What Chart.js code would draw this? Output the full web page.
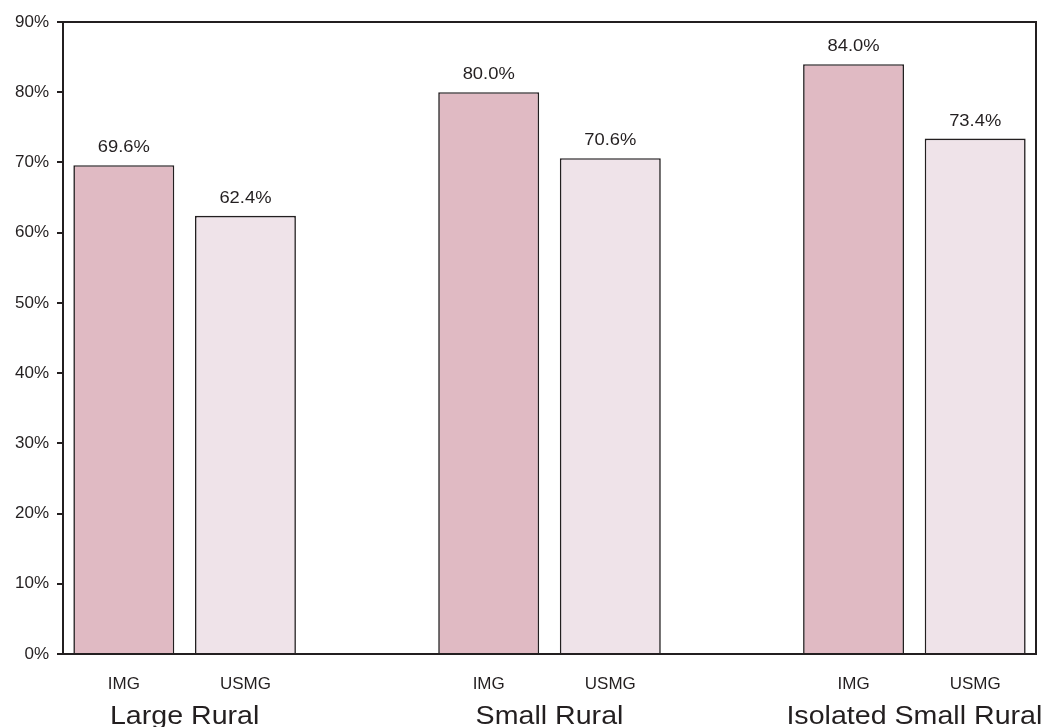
<!DOCTYPE html>
<html>
<head>
<meta charset="utf-8">
<script src="https://cdn.jsdelivr.net/npm/chart.js@4/dist/chart.umd.min.js"></script>
<style>
  html, body { margin: 0; padding: 0; background: #fff; }
  #wrap { width: 1047px; height: 727px; }
</style>
</head>
<body>
<div id="wrap"><canvas id="chart" width="1047" height="727"></canvas></div>
<script>
// groups and values
const groups = ['Large Rural', 'Small Rural', 'Isolated Small Rural'];
const seriesNames = ['IMG', 'USMG'];
const imgValues = [69.6, 80.0, 84.0];
const usmgValues = [62.4, 70.6, 73.4];
const yTicks = [0, 10, 20, 30, 40, 50, 60, 70, 80, 90];

const imgColor = '#e0bac3';
const usmgColor = '#efe3e9';
const lineColor = '#231f20';
const textColor = '#231f20';
const font = "'Liberation Sans', Arial, sans-serif";

// lay bars out as IMG, USMG, (gap) per group
const labels = [];
const values = [];
const colors = [];
const groupSlots = [];
groups.forEach((g, i) => {
    if (i > 0) { labels.push(''); values.push(null); colors.push('transparent'); }
    groupSlots.push([labels.length, labels.length + 1]);
    labels.push(seriesNames[0]); values.push(imgValues[i]); colors.push(imgColor);
    labels.push(seriesNames[1]); values.push(usmgValues[i]); colors.push(usmgColor);
});

// text in the original is a bit wider than Arial, so stretch it slightly
function wideText(ctx, text, x, y, stretch) {
    ctx.save();
    ctx.translate(x, y);
    ctx.scale(stretch, 1);
    ctx.fillText(text, 0, 0);
    ctx.restore();
}

const extras = {
    id: 'extras',
    afterDatasetsDraw(chart) {
        const ctx = chart.ctx;
        const area = chart.chartArea;
        const xs = chart.scales.x;
        ctx.save();
        // box around the plot
        ctx.strokeStyle = lineColor;
        ctx.lineWidth = 2;
        ctx.strokeRect(area.left, area.top, area.right - area.left, area.bottom - area.top);

        // value labels
        ctx.fillStyle = textColor;
        ctx.font = '17px ' + font;
        ctx.textAlign = 'center';
        ctx.textBaseline = 'alphabetic';
        chart.getDatasetMeta(0).data.forEach((bar, i) => {
            if (values[i] == null) return;
            wideText(ctx, values[i].toFixed(1) + '%', bar.x, bar.y - 13, 1.08);
        });

        // group labels under the pairs
        ctx.font = '26px ' + font;
        groupSlots.forEach((s, i) => {
            const cx = (xs.getPixelForValue(s[0]) + xs.getPixelForValue(s[1])) / 2;
            wideText(ctx, groups[i], cx, 724, 1.1);
        });
        ctx.restore();
    }
};

new Chart(document.getElementById('chart'), {
    type: 'bar',
    data: {
        labels: labels,
        datasets: [{
            data: values,
            backgroundColor: colors,
            borderColor: lineColor,
            borderWidth: 1.6,
            categoryPercentage: 1,
            barPercentage: 0.83
        }]
    },
    options: {
        responsive: false,
        animation: false,
        layout: { padding: { top: 22, right: 11, left: 0, bottom: 0 } },
        plugins: { legend: { display: false }, tooltip: { enabled: false } },
        scales: {
            x: {
                grid: { display: false },
                border: { display: false },
                ticks: { color: textColor, font: { family: font, size: 17 }, padding: 12, maxRotation: 0 },
                afterFit(scale) { scale.height = 73; }
            },
            y: {
                min: 0,
                max: 90,
                afterBuildTicks(scale) { scale.ticks = yTicks.map(v => ({ value: v })); },
                grid: { drawOnChartArea: false, drawTicks: true, tickLength: 6, color: lineColor, lineWidth: 2 },
                border: { display: false },
                ticks: {
                    color: textColor,
                    font: { family: font, size: 17 },
                    padding: 8,
                    callback: v => v + '%'
                },
                afterFit(scale) { scale.width = 63; }
            }
        }
    },
    plugins: [extras]
});
</script>
</body>
</html>
